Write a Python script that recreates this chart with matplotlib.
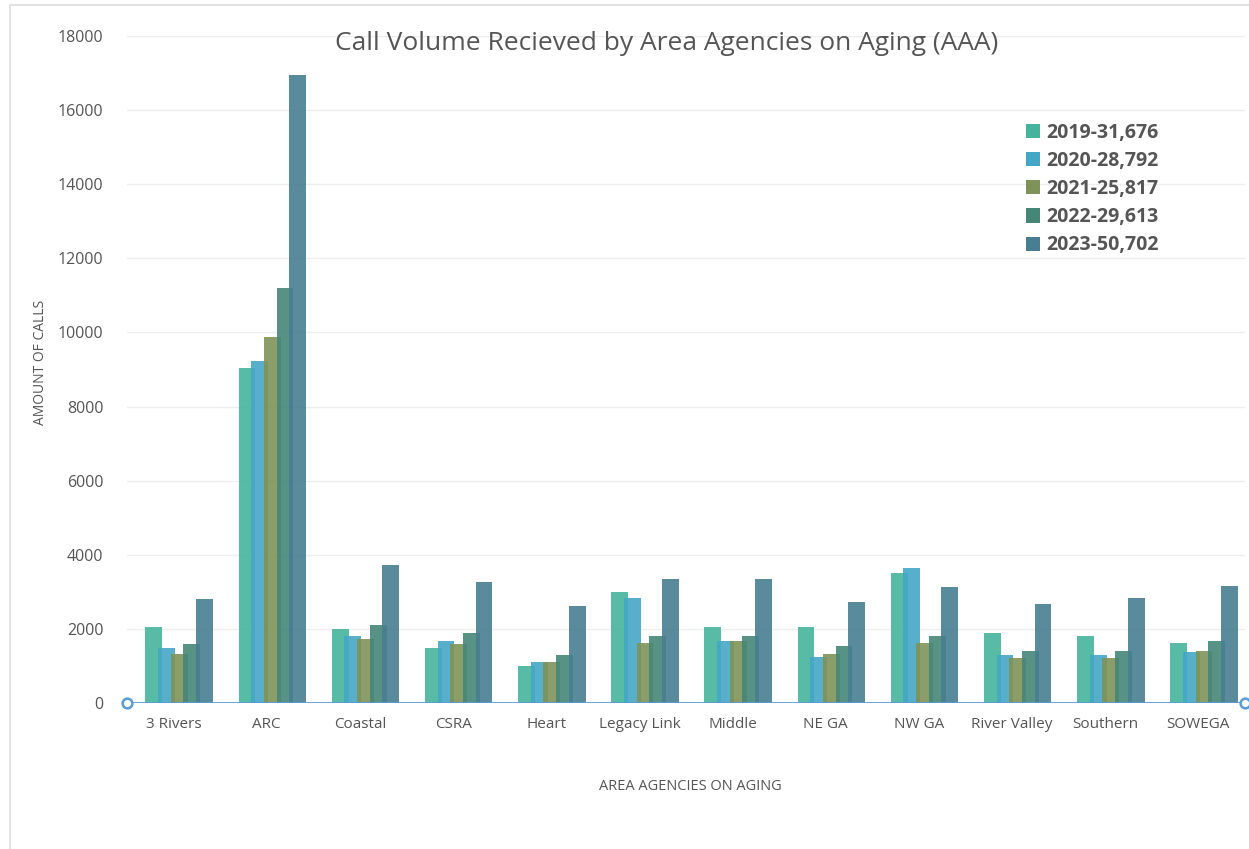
import matplotlib
matplotlib.use("Agg")
import matplotlib.pyplot as plt
from matplotlib.patches import Rectangle
import numpy as np

plt.rcParams['font.family'] = ['Open Sans', 'DejaVu Sans']

categories = ["3 Rivers", "ARC", "Coastal", "CSRA", "Heart", "Legacy Link", "Middle",
              "NE GA", "NW GA", "River Valley", "Southern", "SOWEGA"]
series_labels = ["2019-31,676", "2020-28,792", "2021-25,817", "2022-29,613", "2023-50,702"]
v2019 = [2060, 9040, 1990, 1475, 1000, 2985, 2060, 2060, 3500, 1880, 1810, 1630]
v2020 = [1475, 9230, 1810, 1665, 1115, 2835, 1665, 1250, 3635, 1285, 1285, 1370]
v2021 = [1330, 9875, 1735, 1590, 1115, 1630, 1665, 1330, 1630, 1220, 1220, 1410]
v2022 = [1585, 11200, 2095, 1880, 1295, 1810, 1810, 1545, 1810, 1410, 1410, 1665]
v2023 = [2800, 16950, 3715, 3275, 2620, 3345, 3345, 2725, 3120, 2680, 2835, 3165]
series = [v2019, v2020, v2021, v2022, v2023]
colors = ["#46B49C", "#45A7C6", "#7F9257", "#468677", "#477E92"]

W, H = 1249, 849
fig = plt.figure(figsize=(W / 100, H / 100), dpi=100)
ax = fig.add_axes([127 / W, (H - 703) / H, (1245 - 127) / W, (703 - 36) / H])

x = np.arange(len(categories))
bw = 0.18
step = 0.136
shift = 0.06
for i, (vals, col, lab) in enumerate(zip(series, colors, series_labels)):
    ax.bar(x + (i - 2) * step + shift, vals, width=bw, color=col, alpha=0.9,
           edgecolor="none", linewidth=0, label=lab, zorder=3 + i)

ax.set_xlim(-0.5, len(categories) - 0.5)
ax.set_ylim(0, 18000)
ax.set_yticks(np.arange(0, 18001, 2000))
ax.set_xticks(x)
ax.set_xticklabels(categories, fontsize=11, color="#555555")
ax.tick_params(axis='y', labelsize=11.5, colors="#555555", length=0, pad=17)
ax.tick_params(axis='x', length=0, pad=10)
ax.grid(axis='y', color="#eeeeee", linewidth=1, zorder=0)
for s in ax.spines.values():
    s.set_visible(False)
ax.axhline(0, color="#5B9BD5", linewidth=2, zorder=10)
ax.plot([-0.5, len(categories) - 0.5], [0, 0], 'o', markersize=7, markerfacecolor="white",
        markeredgecolor="#5B9BD5", markeredgewidth=1.8, clip_on=False, zorder=11)

ax.set_ylabel("AMOUNT OF CALLS", fontsize=10, color="#555555")
ax.yaxis.set_label_coords((48 - 127) / (1245 - 127), 0.51)
ax.set_xlabel("AREA AGENCIES ON AGING", fontsize=10.5, color="#555555")
ax.xaxis.set_label_coords((690 - 127) / (1245 - 127), -(779 - 703) / (703 - 36))

fig.text(667 / W, 1 - 44 / H, "Call Volume Recieved by Area Agencies on Aging (AAA)",
         ha="center", va="center", fontsize=19, color="#555555")

leg = ax.legend(loc="upper left", bbox_to_anchor=((1018 - 127) / (1245 - 127), 1 - (115 - 36) / (703 - 36)),
                frameon=False, prop={'weight': 'bold', 'size': 14}, handlelength=0.75,
                handleheight=0.75, handletextpad=0.3, labelspacing=0.42, borderaxespad=0)
for t in leg.get_texts():
    t.set_color("#555555")
for h in leg.legend_handles:
    h.set_alpha(1)

fig.patches.append(Rectangle((10 / W, -0.01), 1.0, 1 - 5 / H + 0.01, transform=fig.transFigure,
                             fill=False, edgecolor="#dddddd", linewidth=1.2))

fig.savefig("out.png", dpi=100)
